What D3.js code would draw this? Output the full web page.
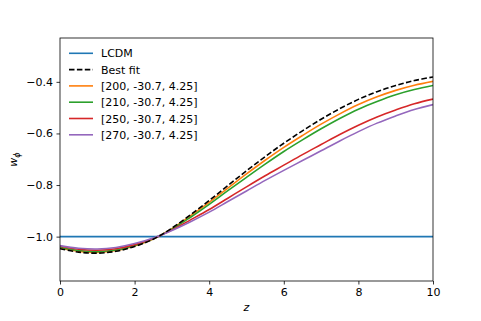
<!DOCTYPE html>
<html>
<head>
<meta charset="utf-8">
<script src="https://d3js.org/d3.v7.min.js"></script>
<style>
  body { margin: 0; background: #fff; }
  text { font-family: "DejaVu Sans", sans-serif; }
</style>
</head>
<body>
<svg id="chart" width="481" height="321"></svg>
<script>
// redshift samples
var z = [0, 0.5, 1, 1.5, 2, 2.5, 3, 3.5, 4, 4.5, 5, 5.5, 6, 6.5, 7, 7.5, 8, 8.5, 9, 9.5, 10];

var lcdm     = [-1, -1, -1, -1, -1, -1, -1, -1, -1, -1, -1, -1, -1, -1, -1, -1, -1, -1, -1, -1, -1];
var bestFit  = [-1.047, -1.060, -1.064, -1.057, -1.038, -1.010, -0.967, -0.915, -0.860, -0.802, -0.745, -0.690, -0.638, -0.590, -0.545, -0.504, -0.468, -0.438, -0.414, -0.395, -0.381];
var fit200   = [-1.044, -1.057, -1.061, -1.054, -1.036, -1.009, -0.969, -0.919, -0.867, -0.812, -0.757, -0.704, -0.654, -0.608, -0.564, -0.524, -0.488, -0.458, -0.433, -0.413, -0.398];
var fit210   = [-1.041, -1.054, -1.058, -1.052, -1.034, -1.008, -0.971, -0.925, -0.875, -0.822, -0.770, -0.719, -0.670, -0.625, -0.582, -0.542, -0.506, -0.476, -0.450, -0.430, -0.414];
var fit250   = [-1.037, -1.049, -1.053, -1.047, -1.031, -1.007, -0.974, -0.935, -0.895, -0.851, -0.807, -0.764, -0.723, -0.682, -0.643, -0.604, -0.568, -0.536, -0.509, -0.485, -0.467];
var fit270   = [-1.035, -1.045, -1.048, -1.042, -1.027, -1.005, -0.976, -0.942, -0.905, -0.864, -0.823, -0.782, -0.743, -0.705, -0.667, -0.629, -0.593, -0.560, -0.532, -0.507, -0.488];

var labels = ["LCDM", "Best fit", "[200, -30.7, 4.25]", "[210, -30.7, 4.25]", "[250, -30.7, 4.25]", "[270, -30.7, 4.25]"];
var colors = ["#1f77b4", "#000000", "#ff7f0e", "#2ca02c", "#d62728", "#9467bd"];
var dashes = [null, "5.5,2.4", null, null, null, null];

var xTicks = [0, 2, 4, 6, 8, 10];
var yTicks = [-1.0, -0.8, -0.6, -0.4];

var series = [lcdm, bestFit, fit200, fit210, fit250, fit270];

var svg = d3.select("#chart");

var mLeft = 60, mRight = 433, mTop = 38, mBottom = 281;
var fs = "11px";

var x = d3.scaleLinear().domain([0, 10]).range([mLeft, mRight]);
var y = d3.scaleLinear().domain([-1.172, -0.230]).range([mBottom, mTop]);

svg.append("clipPath").attr("id", "clip")
        .append("rect")
        .attr("x", mLeft).attr("y", mTop)
        .attr("width", mRight - mLeft).attr("height", mBottom - mTop);

var line = d3.line()
        .x(function(d, i) { return x(z[i]); })
        .y(function(d) { return y(d); })
        .curve(d3.curveCatmullRom);

// draw in matplotlib order, best fit on top
var plot = svg.append("g").attr("clip-path", "url(#clip)");
var order = [0, 2, 3, 4, 5, 1];
order.forEach(function(k) {
        plot.append("path")
                .datum(series[k])
                .attr("d", line)
                .attr("fill", "none")
                .attr("stroke", colors[k])
                .attr("stroke-width", 1.6)
                .attr("stroke-dasharray", dashes[k]);
});

// axes
var xAxis = d3.axisBottom(x).tickValues(xTicks).tickSize(3.5).tickPadding(3.5)
        .tickFormat(d3.format("d"));
var yAxis = d3.axisLeft(y).tickValues(yTicks).tickSize(3.5).tickPadding(3.5)
        .tickFormat(function(d) { return d3.format(".1f")(d).replace("-", "\u2212"); });

var gx = svg.append("g").attr("transform", "translate(0," + mBottom + ")").call(xAxis);
var gy = svg.append("g").attr("transform", "translate(" + mLeft + ",0)").call(yAxis);

[gx, gy].forEach(function(g) {
        g.select(".domain").remove();
        g.selectAll("line").attr("stroke", "#000").attr("stroke-width", 0.8);
        g.selectAll("text").attr("font-size", fs).attr("fill", "#000")
                .style("font-family", "'DejaVu Sans', sans-serif");
});

svg.append("rect")
        .attr("x", mLeft).attr("y", mTop)
        .attr("width", mRight - mLeft).attr("height", mBottom - mTop)
        .attr("fill", "none").attr("stroke", "#000").attr("stroke-width", 0.8);

// axis labels
svg.append("text")
        .attr("x", (mLeft + mRight) / 2).attr("y", 311)
        .attr("text-anchor", "middle")
        .attr("font-size", fs)
        .attr("font-style", "italic")
        .text("z");

var yl = svg.append("text")
        .attr("transform", "translate(17," + ((mTop + mBottom) / 2) + ") rotate(-90)")
        .attr("text-anchor", "middle")
        .attr("font-size", fs);
yl.append("tspan").attr("font-style", "italic").text("w");
yl.append("tspan").attr("font-style", "italic").attr("font-size", "8px").attr("dy", 2.5).text("\u03d5");

// legend
var leg = svg.append("g");
labels.forEach(function(t, i) {
        var ly = 53.3 + i * 16.3;
        leg.append("line")
                .attr("x1", 69).attr("x2", 93)
                .attr("y1", ly).attr("y2", ly)
                .attr("stroke", colors[i])
                .attr("stroke-width", 1.6)
                .attr("stroke-dasharray", dashes[i]);
        leg.append("text")
                .attr("x", 101).attr("y", ly + 4)
                .attr("font-size", fs)
                .text(t);
});
</script>
</body>
</html>
